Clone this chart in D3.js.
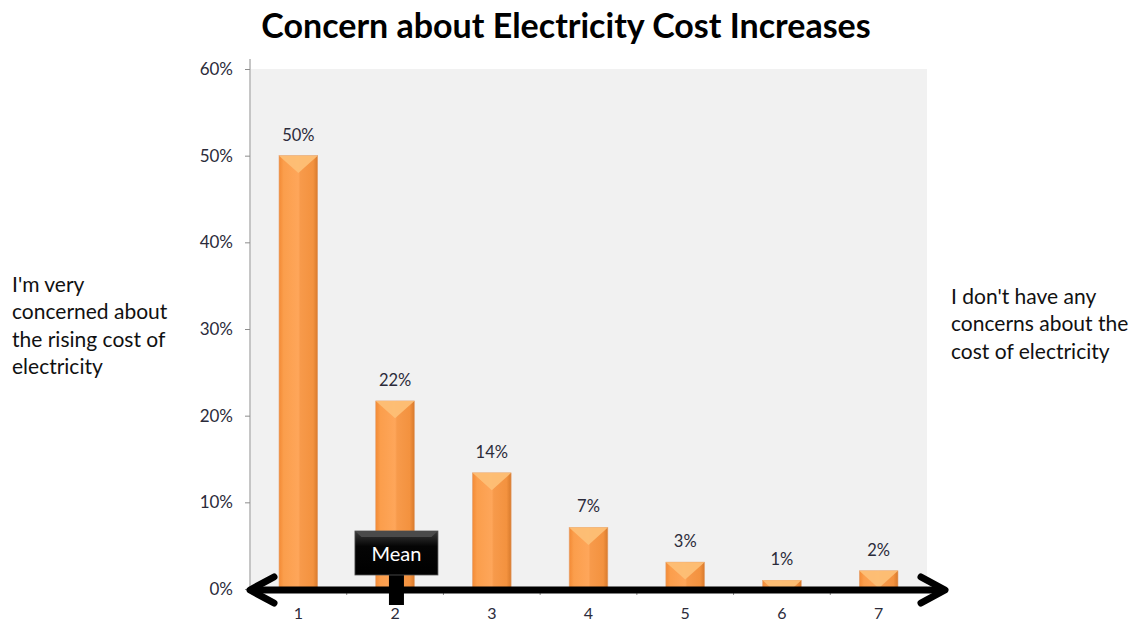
<!DOCTYPE html>
<html><head><meta charset="utf-8">
<script src="https://cdn.jsdelivr.net/npm/d3@7"></script>
<style>
body{margin:0;background:#fff;}
svg{display:block;}
text{font-family:Lato,"Open Sans",sans-serif;}
</style></head>
<body>
<svg id="chart" width="1132" height="621"></svg>
<script>
const categories = ["1","2","3","4","5","6","7"];
const values = [0.50, 0.217, 0.134, 0.071, 0.031, 0.010, 0.021];
const valueLabels = ["50%","22%","14%","7%","3%","1%","2%"];
const yTicks = [0, 0.1, 0.2, 0.3, 0.4, 0.5, 0.6];
const title = "Concern about Electricity Cost Increases";
const leftNote = ["I'm very","concerned about","the rising cost of","electricity"];
const rightNote = ["I don't have any","concerns about the","cost of electricity"];
const meanLabel = "Mean";

const svg = d3.select("#chart");
const M = {left:250, right:927, top:69, bottom:589};

const x = d3.scaleBand().domain(categories).range([M.left, M.right]).paddingInner(0.6).paddingOuter(0.3);
const xc = d3.scaleLinear().domain([1,7]).range([x("1")+x.bandwidth()/2, x("7")+x.bandwidth()/2]);
const y = d3.scaleLinear().domain([0,0.6]).range([M.bottom, M.top]);

const defs = svg.append("defs");
const g1 = defs.append("linearGradient").attr("id","barGrad").attr("x1",0).attr("x2",1).attr("y1",0).attr("y2",0);
g1.append("stop").attr("offset","0%").attr("stop-color","#f38a35");
g1.append("stop").attr("offset","12%").attr("stop-color","#fb9e4c");
g1.append("stop").attr("offset","50%").attr("stop-color","#fea65a");
g1.append("stop").attr("offset","55%").attr("stop-color","#f79a4b");
g1.append("stop").attr("offset","88%").attr("stop-color","#f3923f");
g1.append("stop").attr("offset","100%").attr("stop-color","#d87a2c");
const g2 = defs.append("linearGradient").attr("id","meanGrad").attr("x1",0).attr("x2",0).attr("y1",0).attr("y2",1);
g2.append("stop").attr("offset","0%").attr("stop-color","#3a3a3a");
g2.append("stop").attr("offset","35%").attr("stop-color","#050505");
g2.append("stop").attr("offset","100%").attr("stop-color","#000");

// plot background
svg.append("rect").attr("x",M.left+1).attr("y",M.top).attr("width",M.right-M.left-1).attr("height",M.bottom-M.top).attr("fill","#f1f1f1");

// title
svg.append("text").attr("x",566).attr("y",38).attr("text-anchor","middle")
  .attr("font-size",34).attr("font-weight","bold").attr("fill","#000").text(title);

// y axis
const yAxis = d3.axisLeft(y).tickValues(yTicks).tickFormat(d3.format(".0%")).tickSize(5).tickSizeOuter(0);
const ya = svg.append("g").attr("transform",`translate(${M.left},0)`).call(yAxis);
ya.select(".domain").attr("stroke","#8c8c8c").attr("d",`M0,${M.top-10}V${M.bottom}`);
ya.selectAll(".tick line").attr("stroke","#8c8c8c");
ya.selectAll(".tick text").attr("font-size",17).attr("fill","#2b2b3a").attr("x",-17).attr("font-family","Lato, sans-serif");

// x axis ticks (between categories)
const bounds = d3.range(1,7).map(i => M.left + i*(M.right-M.left)/7);
svg.append("g").selectAll("line").data(bounds).join("line")
  .attr("x1",d=>d).attr("x2",d=>d).attr("y1",M.bottom).attr("y2",M.bottom+6).attr("stroke","#8c8c8c");
svg.append("g").selectAll("text").data(categories).join("text")
  .attr("x",d=>x(d)+x.bandwidth()/2).attr("y",619).attr("text-anchor","middle")
  .attr("font-size",16).attr("fill","#2b2b3a").text(d=>d);

// bars
const bw = x.bandwidth();
const bars = svg.append("g").selectAll("g").data(categories.map((c,i)=>({c,v:values[i],l:valueLabels[i]}))).join("g");
bars.append("rect").attr("x",d=>x(d.c)).attr("y",d=>y(d.v)).attr("width",bw).attr("height",d=>M.bottom-y(d.v))
  .attr("fill","url(#barGrad)").attr("stroke","#e2a67a").attr("stroke-width",0.6);
bars.append("path").attr("d",d=>{
  const x0=x(d.c), x1=x0+bw, t=y(d.v), h=M.bottom-t, dep=Math.min(bw*0.45,h*0.9);
  const dx = dep>=bw*0.45 ? bw/2 : bw/2*(dep/(bw*0.45));
  return `M${x0},${t}H${x1}L${x1-dx},${t+dep}${dx<bw/2?`H${x0+dx}`:''}L${x0},${t}Z`;
}).attr("fill","#fdbf76").attr("opacity",0.95);
bars.append("text").attr("x",d=>x(d.c)+bw/2).attr("y",d=>y(d.v)-15).attr("text-anchor","middle")
  .attr("font-size",16.5).attr("fill","#2b2b3a").text(d=>d.l);

// black double arrow
const ay = M.bottom+1;
const arrow = svg.append("g").attr("stroke","#000").attr("fill","none").attr("stroke-linecap","round").attr("stroke-linejoin","round");
arrow.append("line").attr("x1",M.left+2).attr("x2",942).attr("y1",ay).attr("y2",ay).attr("stroke-width",7);
arrow.append("path").attr("d",`M${M.left+24},${ay-13}L${M.left},${ay}L${M.left+24},${ay+13}`).attr("stroke-width",7);
arrow.append("path").attr("d",`M921,${ay-13}L945,${ay}L921,${ay+13}`).attr("stroke-width",7);

// mean marker
const mean = d3.sum(values.map((v,i)=>v*(i+1)))/d3.sum(values);
const mx = xc(mean);
svg.append("rect").attr("x",mx-7.5).attr("y",570).attr("width",15).attr("height",35).attr("fill","#000");
svg.append("rect").attr("x",mx-41.5).attr("y",531).attr("width",83).attr("height",44).attr("fill","url(#meanGrad)").attr("stroke","#555").attr("stroke-width",0.8);
svg.append("path").attr("d",`M${mx-41.5},531L${mx-35},537H${mx+35}L${mx+41.5},531Z`).attr("fill","#4a4a4a");
svg.append("text").attr("x",mx).attr("y",561).attr("text-anchor","middle").attr("font-size",20).attr("fill","#fff").text(meanLabel);

// side notes
svg.append("g").selectAll("text").data(leftNote).join("text")
  .attr("x",12).attr("y",(d,i)=>292+i*27.3).attr("font-size",21).attr("fill","#111").text(d=>d);
svg.append("g").selectAll("text").data(rightNote).join("text")
  .attr("x",951).attr("y",(d,i)=>304+i*27.3).attr("font-size",21).attr("fill","#111").text(d=>d);
</script>
</body></html>
